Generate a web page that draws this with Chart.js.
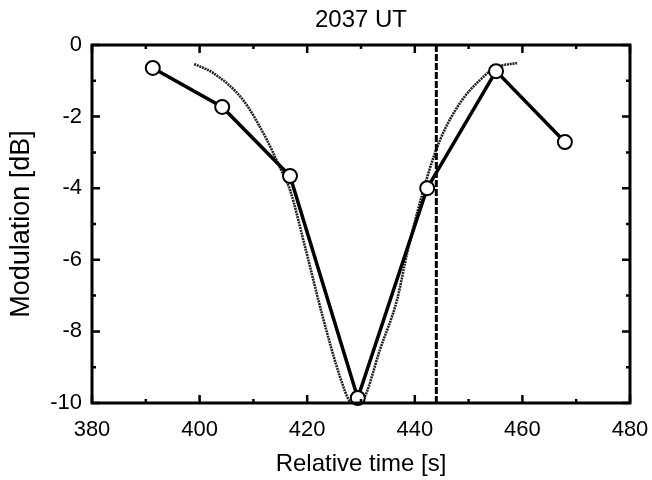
<!DOCTYPE html>
<html>
<head>
<meta charset="utf-8">
<script src="https://cdn.jsdelivr.net/npm/chart.js@4.4.1/dist/chart.umd.min.js"></script>
<style>
html,body{margin:0;padding:0;background:#fff;}
canvas{display:block;}
</style>
</head>
<body>
<canvas id="c" width="652" height="480"></canvas>
<script>
// measured modulation points
const timeS = [391.3, 404.2, 416.8, 429.4, 442.3, 455.1, 467.9];
const modDb = [-0.64, -1.73, -3.66, -9.86, -4.0, -0.73, -2.71];
// model curve
const curveX = [399.0, 402.5, 408.1, 412.5, 414.9, 416.8, 419.6, 422.9, 426.1, 428.0, 429.3, 430.7, 433.5, 436.7, 438.7, 442.3, 444.7, 448.4, 452.1, 454.9, 459.0];
const curveY = [-0.53, -0.78, -1.54, -2.65, -3.41, -4.05, -5.64, -7.6, -9.27, -9.97, -10.05, -9.83, -8.52, -7.12, -5.73, -3.69, -2.65, -1.62, -0.98, -0.64, -0.50];
// marker time (dashed line)
const markerX = [444];
// axes
const xMin = 380, xMax = 480, yMin = -10, yMax = 0;
const xMajor = [380, 400, 420, 440, 460, 480];
const xMinor = [390, 410, 430, 450, 470];
const yMajor = [0, -2, -4, -6, -8, -10];
const yMinor = [-1, -3, -5, -7, -9];

const FONT = "'Liberation Sans', Arial, Helvetica, sans-serif";

const frameTicks = {
  id: 'frameTicks',
  afterDatasetsDraw(chart) {
    const {ctx, chartArea: a, scales: {x, y}} = chart;
    ctx.save();
    ctx.strokeStyle = '#000';
    ctx.lineCap = 'butt';
    ctx.lineWidth = 2.5;
    const tx = (v, len) => {
      const p = x.getPixelForValue(v);
      ctx.beginPath();
      ctx.moveTo(p, a.bottom); ctx.lineTo(p, a.bottom - len);
      ctx.moveTo(p, a.top); ctx.lineTo(p, a.top + len);
      ctx.stroke();
    };
    const ty = (v, len) => {
      const p = y.getPixelForValue(v);
      ctx.beginPath();
      ctx.moveTo(a.left, p); ctx.lineTo(a.left + len, p);
      ctx.moveTo(a.right, p); ctx.lineTo(a.right - len, p);
      ctx.stroke();
    };
    xMajor.forEach(v => tx(v, 8));
    xMinor.forEach(v => tx(v, 4));
    yMajor.forEach(v => ty(v, 8));
    yMinor.forEach(v => ty(v, 4));
    ctx.lineWidth = 3;
    ctx.strokeRect(a.left, a.top, a.right - a.left, a.bottom - a.top);
    ctx.restore();
  }
};

new Chart(document.getElementById('c'), {
  type: 'line',
  data: {
    datasets: [
      {
        label: 'measured',
        data: timeS.map((t, i) => ({x: t, y: modDb[i]})),
        borderColor: '#000',
        borderWidth: 3.5,
        pointRadius: 7,
        pointBackgroundColor: '#fff',
        pointBorderColor: '#000',
        pointBorderWidth: 2,
        clip: 12,
        tension: 0
      },
      {
        label: 'marker',
        data: [{x: markerX[0], y: yMin}, {x: markerX[0], y: yMax}],
        borderColor: '#000',
        borderWidth: 3,
        borderDash: [7, 2],
        pointRadius: 0
      },
      {
        label: 'model',
        data: curveX.map((t, i) => ({x: t, y: curveY[i]})),
        borderColor: '#222',
        borderWidth: 2.6,
        borderDash: [2, 0.8],
        pointRadius: 0,
        cubicInterpolationMode: 'monotone'
      }
    ]
  },
  options: {
    responsive: false,
    animation: false,
    devicePixelRatio: 1,
    layout: {padding: {left: 0, right: 22, top: 0, bottom: 0}},
    plugins: {
      legend: {display: false},
      tooltip: {enabled: false},
      title: {
        display: true,
        fullSize: false,
        text: '2037 UT',
        color: '#000',
        font: {family: FONT, size: 24, weight: 'normal', lineHeight: 1.2},
        padding: {top: 6, bottom: 10.2}
      }
    },
    scales: {
      x: {
        type: 'linear',
        min: xMin, max: xMax,
        grid: {display: false, drawTicks: false},
        border: {display: false},
        ticks: {
          stepSize: 20,
          color: '#000',
          padding: 14,
          maxRotation: 0,
          font: {family: FONT, size: 22}
        },
        title: {
          display: true,
          text: 'Relative time [s]',
          color: '#000',
          font: {family: FONT, size: 24, lineHeight: 1.2},
          padding: {top: 0, bottom: 1}
        },
        afterFit(s) { s.height = 77; s.paddingLeft = 0; s.paddingRight = 0; }
      },
      y: {
        type: 'linear',
        min: yMin, max: yMax,
        grid: {display: false, drawTicks: false},
        border: {display: false},
        ticks: {
          stepSize: 2,
          color: '#000',
          padding: 10,
          font: {family: FONT, size: 22}
        },
        title: {
          display: true,
          text: 'Modulation [dB]',
          color: '#000',
          font: {family: FONT, size: 27, lineHeight: 1.2},
          padding: {top: 5, bottom: 0}
        },
        afterFit(s) { s.width = 92; s.paddingTop = 0; s.paddingBottom = 0; }
      }
    }
  },
  plugins: [frameTicks]
});
</script>
</body>
</html>
